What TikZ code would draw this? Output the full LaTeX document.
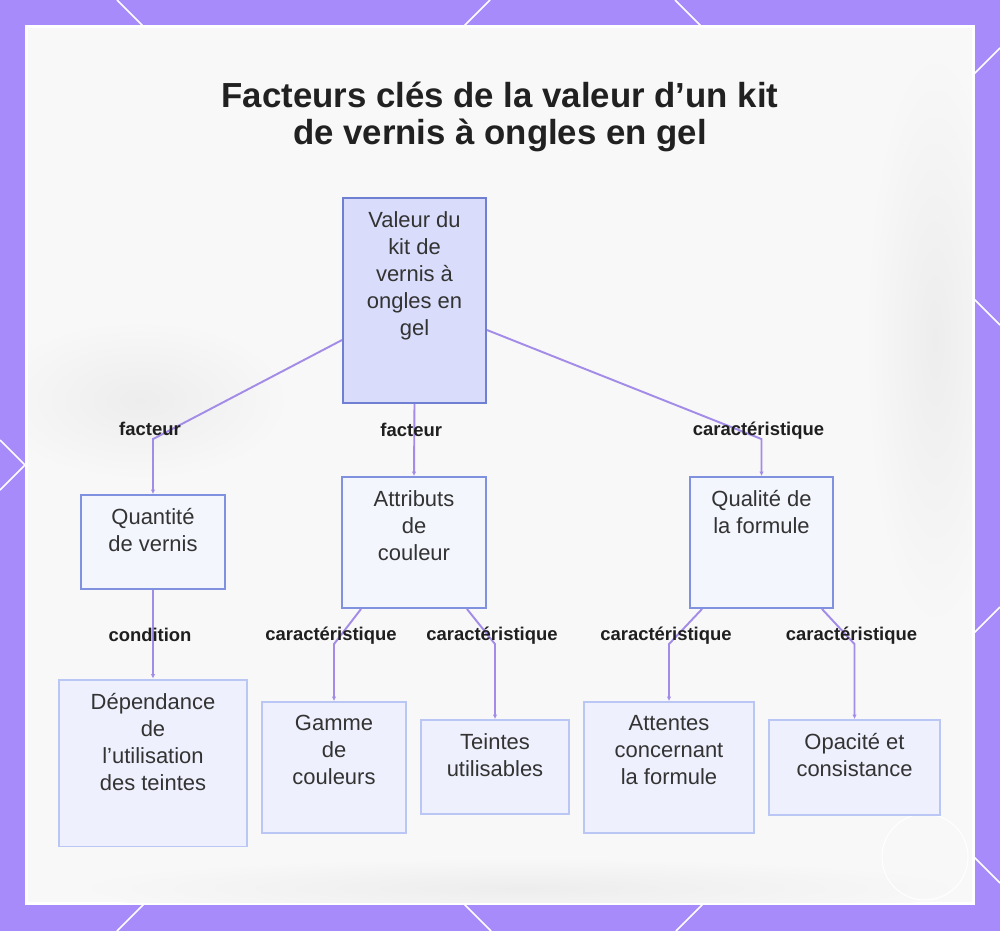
\documentclass[tikz,border=0pt]{standalone}
\usepackage{fontspec}
\setmainfont{Liberation Sans}
\usetikzlibrary{arrows.meta}

\definecolor{frame}{HTML}{A78BFA}
\definecolor{panel}{HTML}{F8F8F8}
\definecolor{blur}{HTML}{EDEDEE}
\definecolor{rootfill}{HTML}{D9DDFB}
\definecolor{rootline}{HTML}{6F7FD2}
\definecolor{midfill}{HTML}{F4F6FE}
\definecolor{midline}{HTML}{7F91DF}
\definecolor{leaffill}{HTML}{EEF1FD}
\definecolor{leafline}{HTML}{BAC6F3}
\definecolor{linkcol}{HTML}{A38BE8}
\definecolor{ink}{HTML}{333333}

\begin{document}
\begin{tikzpicture}[
  x=0.02cm, y=-0.02cm,
  box/.style={line width=1.1pt, inner sep=0pt},
  rootbox/.style={box, draw=rootline, fill=rootfill},
  midbox/.style={box, draw=midline, fill=midfill},
  leafbox/.style={box, draw=leafline, fill=leaffill},
  boxtext/.style={anchor=north, align=center, inner sep=0.28cm, text=ink, font=\fontsize{12.5}{15.4}\selectfont},
  link/.style={draw=linkcol, line width=1.1pt, -{Latex[length=0.9mm, width=0.9mm]}},
  lbl/.style={anchor=base, xshift=-0.06cm, yshift=0.07cm, inner sep=0pt, text=black!88, font=\bfseries\fontsize{10.5}{12}\selectfont},
  haze/.style={inner color=blur, outer color=panel}
]
\useasboundingbox (0,0) rectangle (1000,931);

% frame and panel
\fill[frame] (0,0) rectangle (1000,931);
\draw[white, line width=0.9pt] (117,0) -- (1000,883) (675,0) -- (1000,325) (0,440) -- (491,931)
  (490,0) -- (0,490) (1000,48) -- (117,931) (1000,607) -- (676,931);
\fill[white] (25,25) rectangle (975,905);
\fill[panel] (28,28) rectangle (972,902);
\begin{scope}
  \clip (28,28) rectangle (972,902);
  \shade[haze] (140,400) ellipse [x radius=3cm, y radius=1.6cm];
  \shade[haze] (935,340) ellipse [x radius=1.4cm, y radius=5.8cm];
  \shade[haze] (520,888) ellipse [x radius=9cm, y radius=0.6cm];
\end{scope}
\draw[white, line width=0.6pt] (925,857) circle [radius=0.86cm];

\node[anchor=north, align=center, inner sep=0pt, text=black!87, font=\bfseries\fontsize{19.8}{20.9}\selectfont] (title) at (500,82)
  {Facteurs clés de la valeur d’un kit\\de vernis à ongles en gel};

% boxes
\node[rootbox, minimum width=2.86cm, minimum height=4.10cm, label={[boxtext]north:{Valeur du\\kit de\\vernis à\\ongles en\\gel}}] (root) at (414.5,300.5) {};
\node[midbox, minimum width=2.88cm, minimum height=1.88cm, label={[boxtext]north:{Quantité\\de vernis}}] (quant) at (153,542) {};
\node[midbox, minimum width=2.88cm, minimum height=2.62cm, label={[boxtext]north:{Attributs\\de\\couleur}}] (attr) at (414,542.5) {};
\node[midbox, minimum width=2.86cm, minimum height=2.62cm, label={[boxtext]north:{Qualité de\\la formule}}] (qual) at (761.5,542.5) {};
\node[leafbox, minimum width=3.76cm, minimum height=3.34cm, label={[boxtext]north:{Dépendance\\de\\l’utilisation\\des teintes}}] (depend) at (153,763) {};
\node[leafbox, minimum width=2.88cm, minimum height=2.62cm, label={[boxtext]north:{Gamme\\de\\couleurs}}] (gamme) at (334,767.5) {};
\node[leafbox, minimum width=2.96cm, minimum height=1.88cm, label={[boxtext]north:{Teintes\\utilisables}}] (teintes) at (495,767) {};
\node[leafbox, minimum width=3.40cm, minimum height=2.62cm, label={[boxtext]north:{Attentes\\concernant\\la formule}}] (attentes) at (669,767.5) {};
\node[leafbox, minimum width=3.42cm, minimum height=1.90cm, label={[boxtext]north:{Opacité et\\consistance}}] (opacite) at (854.5,767.5) {};

% links
\draw[link] ([yshift=-0.79cm]root.west) -- ([yshift=1.1cm]quant.north) node[lbl] {facteur} -- (quant.north);
\draw[link] (root.south) -- node[lbl, pos=0.5] {facteur} (attr.north);
\draw[link] ([yshift=-0.59cm]root.east) -- ([yshift=0.74cm]qual.north) node[lbl] {caractéristique} -- (qual.north);
\draw[link] (quant.south) -- node[lbl, pos=0.62] {condition} (depend.north);
\draw[link] ([xshift=0.4cm]attr.south west) -- ([yshift=1.14cm]gamme.north) node[lbl] {caractéristique} -- (gamme.north);
\draw[link] ([xshift=-0.4cm]attr.south east) -- ([yshift=1.5cm]teintes.north) node[lbl] {caractéristique} -- (teintes.north);
\draw[link] ([xshift=0.26cm]qual.south west) -- ([yshift=1.14cm]attentes.north) node[lbl] {caractéristique} -- (attentes.north);
\draw[link] ([xshift=-0.24cm]qual.south east) -- ([yshift=1.5cm]opacite.north) node[lbl] {caractéristique} -- (opacite.north);
\end{tikzpicture}
\end{document}
